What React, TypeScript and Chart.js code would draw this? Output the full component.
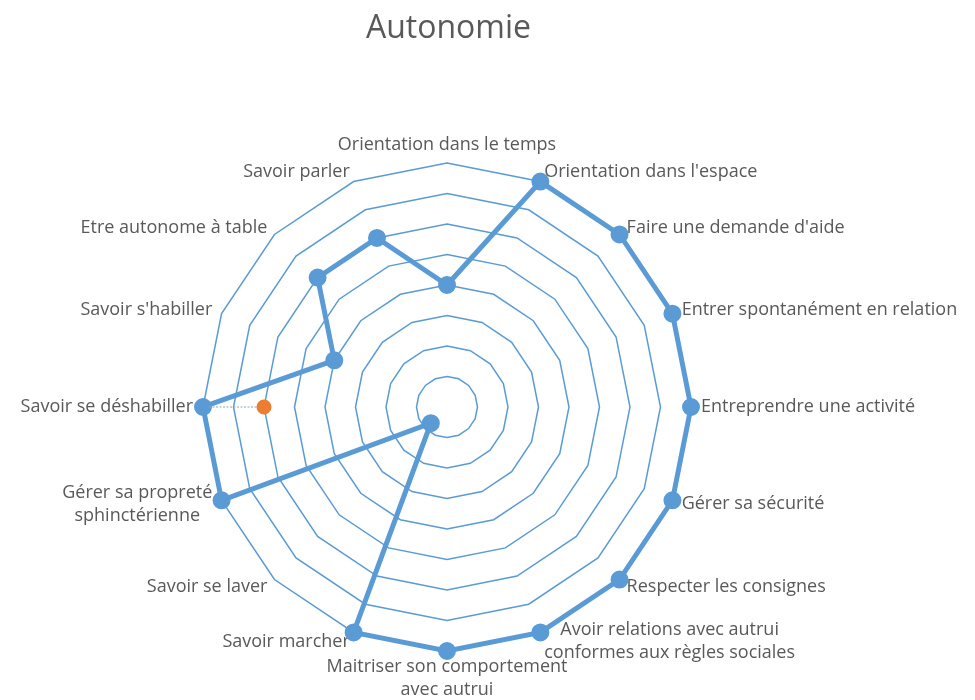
import React, { useEffect, useRef } from "react";
import { Chart, registerables, RadialLinearScale } from "chart.js";

Chart.register(...registerables);

const categories: (string | string[])[] = [
  "Orientation dans le temps",
  "Orientation dans l'espace",
  "Faire une demande d'aide",
  "Entrer spontanément en relation",
  "Entreprendre une activité",
  "Gérer sa sécurité",
  "Respecter les consignes",
  ["Avoir relations avec autrui", "conformes aux règles sociales"],
  ["Maitriser son comportement", "avec autrui"],
  "Savoir marcher",
  "Savoir se laver",
  ["Gérer sa propreté", "sphinctérienne"],
  "Savoir se déshabiller",
  "Savoir s'habiller",
  "Etre autonome à table",
  "Savoir parler",
];

const seriesBlue: (number | null)[] = [4, 8, 8, 8, 8, 8, 8, 8, 8, 8, 0.75, 8, 8, 4, 6, 6];
const seriesOrange: (number | null)[] = [null, null, null, null, null, null, null, null, null, null, null, null, 6, null, null, null];

const scaleMin = 0;
const scaleMax = 8;
const scaleStep = 1;

// layout of the radial plot (canvas pixels)
const CENTER_X = 439;
const CENTER_Y = 399;
const RADIUS = 244;
const GAP_SIDE = 10;
const GAP_TOP = 6;
const GAP_BOTTOM = 4;

class FixedRadialScale extends RadialLinearScale {
  static id = "fixedRadial";
  static defaults = RadialLinearScale.defaults;
  setCenterPoint(_l: number, _r: number, _t: number, _b: number) {
    (this as any).xCenter = CENTER_X;
    (this as any).yCenter = CENTER_Y;
    (this as any).drawingArea = RADIUS;
  }
  fit() {
    super.fit();
    const items = (this as any)._pointLabelItems;
    if (!items) return;
    for (let i = 0; i < items.length; i++) {
      const it = items[i];
      const w = it.right - it.left;
      const h = it.bottom - it.top;
      const deg = (((this.getIndexAngle(i) * 180) / Math.PI) % 360 + 360) % 360;
      const isTop = deg < 1 || deg > 359;
      const isBottom = Math.abs(deg - 180) < 1;
      const pad = isTop ? GAP_TOP : isBottom ? GAP_BOTTOM : GAP_SIDE;
      const p = this.getPointPosition(i, RADIUS + pad);
      let cx = p.x;
      let top = p.y - h / 2;
      if (isTop) top = p.y - h;
      else if (isBottom) top = p.y;
      else if (deg < 180) cx = p.x + w / 2;
      else cx = p.x - w / 2;
      it.x = cx;
      it.y = top;
      it.textAlign = "center";
      it.left = cx - w / 2;
      it.right = cx + w / 2;
      it.top = top;
      it.bottom = top + h;
      it.visible = true;
    }
  }
}
Chart.register(FixedRadialScale as any);

const connectorPlugin = {
  id: "connector",
  afterDatasetsDraw(chart: any) {
    const scale = chart.scales.r;
    const ctx = chart.ctx;
    seriesOrange.forEach((v, i) => {
      const b = seriesBlue[i];
      if (v == null || b == null) return;
      const p1 = scale.getPointPositionForValue(i, b);
      const p2 = scale.getPointPositionForValue(i, v);
      ctx.save();
      ctx.strokeStyle = "rgba(140,170,200,0.7)";
      ctx.lineWidth = 1.5;
      ctx.setLineDash([2, 1.5]);
      ctx.beginPath();
      ctx.moveTo(p1.x + 6, p1.y);
      ctx.lineTo(p2.x - 6, p2.y);
      ctx.stroke();
      ctx.restore();
    });
  },
};

export default function App() {
  const ref = useRef<HTMLCanvasElement>(null);
  useEffect(() => {
    if (!ref.current) return;
    const chart = new Chart(ref.current, {
      type: "radar",
      data: {
        labels: categories,
        datasets: [
          {
            label: "Série 1",
            data: seriesBlue,
            borderColor: "#5B9BD5",
            backgroundColor: "#5B9BD5",
            borderWidth: 5,
            pointRadius: 6.5,
            pointBackgroundColor: "#5B9BD5",
            pointBorderColor: "#5B9BD5",
            fill: false,
            tension: 0,
          },
          {
            label: "Série 2",
            data: seriesOrange,
            borderColor: "#ED7D31",
            backgroundColor: "#ED7D31",
            borderWidth: 2,
            pointRadius: 6.5,
            pointBackgroundColor: "#ED7D31",
            pointBorderColor: "#ED7D31",
            fill: false,
            spanGaps: false,
          },
        ],
      },
      options: {
        responsive: true,
        maintainAspectRatio: false,
        animation: false,
        layout: { padding: { top: 2, right: 78, left: 0, bottom: 0 } },
        plugins: {
          legend: { display: false },
          tooltip: { enabled: false },
          title: {
            display: true,
            text: "Autonomie",
            color: "#595959",
            font: { family: "'Open Sans'", size: 32, weight: "normal" },
            padding: { top: 0, bottom: 10 },
          },
        },
        scales: {
          r: {
            type: "fixedRadial" as any,
            min: scaleMin,
            max: scaleMax,
            ticks: { stepSize: scaleStep, display: false },
            angleLines: { display: false },
            grid: { color: "#5B9BD5", lineWidth: 1.5, circular: false },
            pointLabels: {
              color: "#595959",
              font: { family: "'Open Sans'", size: 18, lineHeight: 1.3 },
              padding: 10,
            },
          },
        },
      },
      plugins: [connectorPlugin],
    });
    return () => chart.destroy();
  }, []);
  return (
    <div style={{ width: 959, height: 692, position: "relative" }}>
      <canvas ref={ref} />
    </div>
  );
}
